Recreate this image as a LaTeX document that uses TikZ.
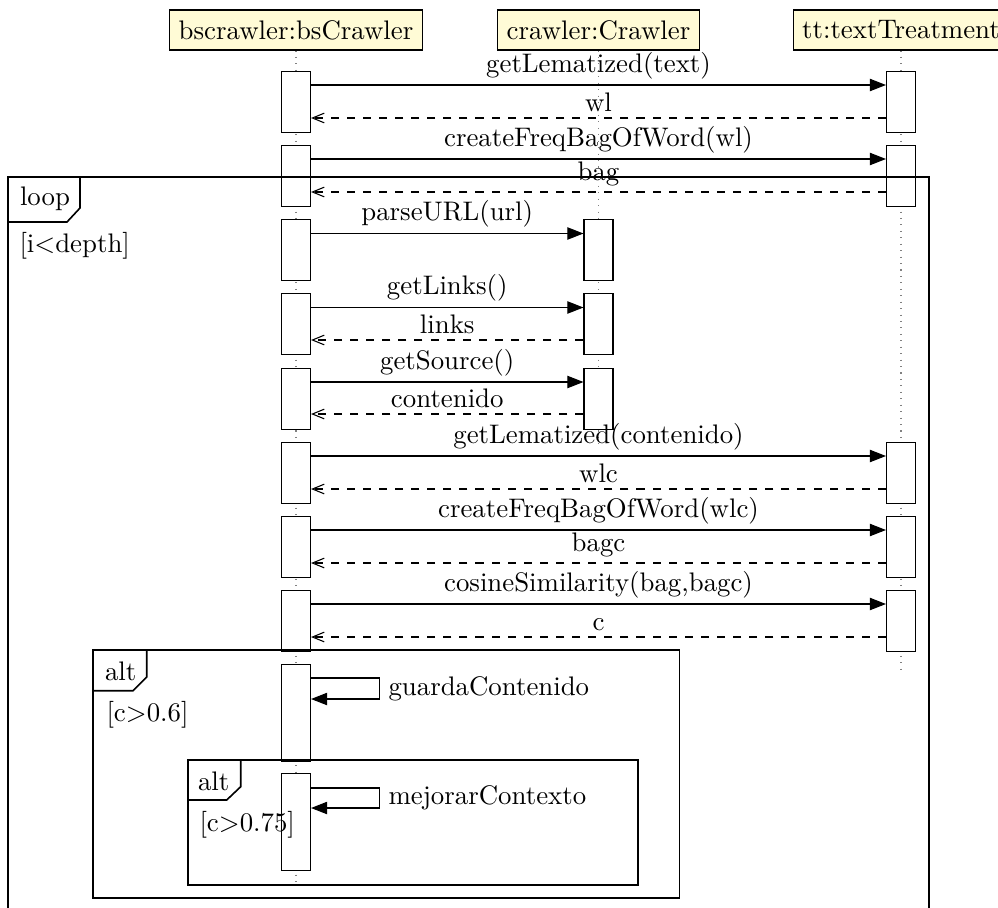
\documentclass[tikz,border=0pt]{standalone}
\usetikzlibrary{arrows.meta,calc}
\definecolor{headfill}{RGB}{255,251,214}
\begin{document}
\begin{tikzpicture}[x=0.37272pt, y=-0.37272pt,
  head/.style={draw, fill=headfill, minimum height=14.91pt, inner xsep=3.33pt, inner ysep=0pt},
  lifeline/.style={dotted, gray},
  act/.style={draw, fill=white, inner sep=0pt, minimum width=10.81pt, minimum height=22.73pt, anchor=north},
  longact/.style={act, minimum height=36.15pt},
  call/.style={-{Triangle[length=6pt,width=4.6pt]}},
  reply/.style={dashed, -{Straight Barb[length=4.4pt,width=3.6pt]}},
  msg/.style={above, inner sep=2pt},
  selfmsg/.style={right, inner sep=3.33pt},
  frame/.style={line width=0.6pt},
  ftext/.style={anchor=base west, inner sep=0pt}]

\useasboundingbox (0,0) rectangle (998,907);

% instances
\node[head] (bs) at (296,30) {bscrawler:bsCrawler};
\node[head] (cr) at (598.5,30) {crawler:Crawler};
\node[head] (tt) at (901,30) {tt:textTreatment};

% lifelines
\coordinate (bsend) at (296,887);
\coordinate (crend) at (598.5,446);
\coordinate (ttend) at (901,670);
\draw[lifeline] (bs) -- (bsend);
\draw[lifeline] (cr) -- (crend);
\draw[lifeline] (tt) -- (ttend);

% activations
\node[act] (a1) at (296,71) {};   \node[act] (t1) at (901,71) {};
\node[act] (a2) at (296,145) {};  \node[act] (t2) at (901,145) {};
\node[act] (a3) at (296,219) {};  \node[act] (c3) at (598.5,219) {};
\node[act] (a4) at (296,293) {};  \node[act] (c4) at (598.5,293) {};
\node[act] (a5) at (296,368) {};  \node[act] (c5) at (598.5,368) {};
\node[act] (a6) at (296,442) {};  \node[act] (t6) at (901,442) {};
\node[act] (a7) at (296,516) {};  \node[act] (t7) at (901,516) {};
\node[act] (a8) at (296,590) {};  \node[act] (t8) at (901,590) {};
\node[longact] (a9) at (296,664) {};
\node[longact] (a10) at (296,773) {};

% messages
\draw[call] ($(a1.north east)+(0,14)$) -- ($(t1.north west)+(0,14)$) node[msg, midway] (l1) {getLematized(text)};
\draw[reply] ($(t1.north west)+(0,47)$) -- ($(a1.north east)+(0,47)$) node[msg, midway] (r1) {wl};

\draw[call] ($(a2.north east)+(0,14)$) -- ($(t2.north west)+(0,14)$) node[msg, midway] (l2) {createFreqBagOfWord(wl)};
\draw[reply] ($(t2.north west)+(0,47)$) -- ($(a2.north east)+(0,47)$) node[msg, midway] (r2) {bag};

\draw[call] ($(a3.north east)+(0,14.5)$) -- ($(c3.north west)+(0,14.5)$) node[msg, midway] (l3) {parseURL(url)};

\draw[call] ($(a4.north east)+(0,14.5)$) -- ($(c4.north west)+(0,14.5)$) node[msg, midway] (l4) {getLinks()};
\draw[reply] ($(c4.north west)+(0,47)$) -- ($(a4.north east)+(0,47)$) node[msg, midway] (r4) {links};

\draw[call] ($(a5.north east)+(0,14)$) -- ($(c5.north west)+(0,14)$) node[msg, midway] (l5) {getSource()};
\draw[reply] ($(c5.north west)+(0,46)$) -- ($(a5.north east)+(0,46)$) node[msg, midway] (r5) {contenido};

\draw[call] ($(a6.north east)+(0,14)$) -- ($(t6.north west)+(0,14)$) node[msg, midway] (l6) {getLematized(contenido)};
\draw[reply] ($(t6.north west)+(0,47)$) -- ($(a6.north east)+(0,47)$) node[msg, midway] (r6) {wlc};

\draw[call] ($(a7.north east)+(0,14)$) -- ($(t7.north west)+(0,14)$) node[msg, midway] (l7) {createFreqBagOfWord(wlc)};
\draw[reply] ($(t7.north west)+(0,47)$) -- ($(a7.north east)+(0,47)$) node[msg, midway] (r7) {bagc};

\draw[call] ($(a8.north east)+(0,14)$) -- ($(t8.north west)+(0,14)$) node[msg, midway] (l8) {cosineSimilarity(bag,bagc)};
\draw[reply] ($(t8.north west)+(0,47)$) -- ($(a8.north east)+(0,47)$) node[msg, midway] (r8) {c};

% self calls
\draw[call] ($(a9.north east)+(0,14)$) -- ++(68,0) -- ++(0,21) node[midway, selfmsg] (l9) {guardaContenido} -- ($(a9.north east)+(0,35)$);
\draw[call] ($(a10.north east)+(0,15)$) -- ++(68,0) -- ++(0,20) node[midway, selfmsg] (l10) {mejorarContexto} -- ($(a10.north east)+(0,35)$);

% combined fragments
\draw[frame] (8.3,176.7) rectangle (928.7,910);
\draw[frame] (80,176.7) -- (80,208) -- (67,222) -- (8.3,222);
\node[ftext] (loopl) at (19.5,205.7) {loop};
\node[ftext] (loopc) at (19,252.6) {[i\textless depth]};

\draw[frame] (93.3,650) rectangle (679.3,898);
\draw[frame] (146.7,650) -- (146.7,677) -- (133,690.7) -- (93.3,690.7);
\node[ftext] (alt1) at (104.5,680) {alt};
\node[ftext] (cond1) at (106,721.6) {[c\textgreater 0.6]};

\draw[frame] (187.7,760) rectangle (637.7,885);
\draw[frame] (240.7,760) -- (240.7,786.7) -- (226.7,800) -- (187.7,800);
\node[ftext] (alt2) at (197.5,790.7) {alt};
\node[ftext] (cond2) at (199,831) {[c\textgreater 0.75]};
\end{tikzpicture}
\end{document}
